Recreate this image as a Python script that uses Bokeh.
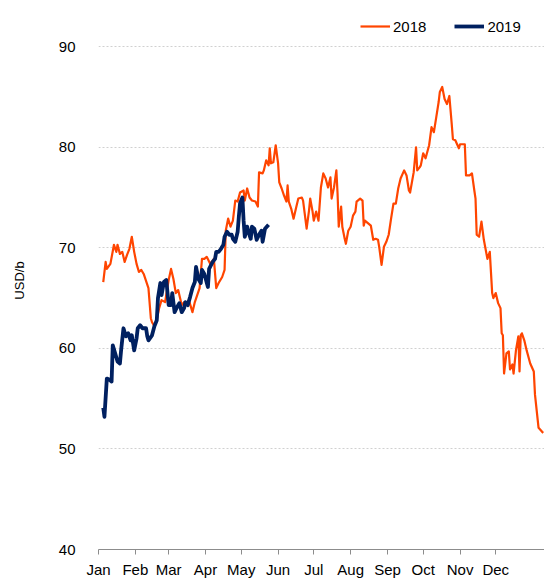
from bokeh.plotting import figure
from bokeh.models import Range1d, FixedTicker, Legend, LegendItem
from bokeh.embed import file_html
from bokeh.resources import INLINE

# ---- data -------------------------------------------------------------
months = ["Jan", "Feb", "Mar", "Apr", "May", "Jun",
          "Jul", "Aug", "Sep", "Oct", "Nov", "Dec"]
month_start_day = [0, 31, 59, 90, 120, 151, 181, 212, 243, 273, 304, 334]
y_ticks = [40, 50, 60, 70, 80, 90]

days_2018 = [4, 6, 7, 10, 13, 15, 16, 18, 20, 22,
             24, 26, 28, 30, 32, 34, 36, 38, 42, 44,
             45, 47, 49, 51, 53, 56, 59, 61, 63, 65,
             67, 70, 72, 74, 76, 79, 81, 83, 85, 87,
             89, 91, 94, 97, 99, 101, 104, 106, 107, 109,
             111, 113, 115, 117, 119, 122, 123, 125, 127, 129,
             132, 134, 135, 138, 139, 141, 143, 144, 145, 147,
             149, 151, 152, 154, 156, 158, 159, 160, 162, 164,
             166, 168, 171, 172, 175, 177, 178, 180, 181, 183,
             185, 187, 189, 191, 193, 195, 196, 198, 200, 201,
             202, 204, 205, 207, 208, 210, 212, 214, 216, 217,
             220, 222, 223, 224, 227, 229, 231, 233, 235, 236,
             238, 240, 242, 244, 246, 248, 250, 252, 254, 257,
             259, 261, 262, 265, 267, 268, 270, 271, 273, 275,
             278, 280, 282, 284, 286, 287, 289, 291, 293, 295,
             297, 298, 300, 303, 304, 308, 309, 312, 314, 316,
             317, 318, 320, 322, 324, 327, 329, 331, 332, 334,
             336, 338, 339, 340, 341, 343, 345, 346, 348, 349,
             351, 353, 354, 355, 356, 358, 360, 363, 366, 367,
             370, 373, 374]
brent_2018 = [66.6, 68.6, 67.9, 68.4, 70.3, 69.6, 70.3, 69.4, 69.6, 68.6,
              69.3, 69.9, 71.1, 69.6, 68.4, 67.6, 67.8, 67.4, 66.0, 63.0,
              62.6, 62.2, 62.8, 64.0, 64.8, 64.6, 66.8, 67.9, 66.9, 65.5,
              65.8, 64.3, 64.6, 64.5, 64.8, 63.6, 64.6, 65.3, 66.0, 68.9,
              68.9, 69.1, 68.4, 68.9, 66.0, 66.5, 67.1, 67.8, 71.7, 72.9,
              72.1, 72.7, 74.7, 74.6, 75.5, 75.7, 74.7, 75.9, 75.0, 74.7,
              74.6, 74.1, 77.5, 77.4, 77.7, 78.7, 78.2, 79.9, 78.4, 78.5,
              80.2, 78.4, 76.5, 75.9, 75.2, 74.6, 76.2, 74.6, 73.9, 72.9,
              73.9, 74.9, 75.0, 74.7, 71.9, 73.7, 74.9, 73.6, 72.7, 73.6,
              72.7, 76.0, 77.4, 76.9, 76.0, 77.0, 74.9, 76.0, 77.7, 75.4,
              72.1, 74.1, 72.1, 70.9, 70.4, 71.7, 72.1, 73.2, 73.6, 74.6,
              74.9, 74.7, 72.2, 72.7, 72.4, 72.2, 70.8, 70.9, 70.8, 70.1,
              68.3, 70.1, 70.6, 71.3, 72.9, 74.4, 74.4, 75.9, 76.9, 77.7,
              77.2, 75.7, 75.5, 77.5, 80.0, 77.7, 78.0, 78.2, 79.4, 78.9,
              80.2, 82.0, 81.5, 83.0, 84.5, 85.5, 86.0, 84.8, 84.3, 85.1,
              82.3, 80.8, 80.7, 79.9, 80.3, 80.3, 77.2, 77.2, 77.4, 75.7,
              74.9, 71.3, 71.1, 72.6, 70.8, 68.9, 69.6, 65.5, 65.0, 65.5,
              64.5, 64.0, 61.5, 61.3, 57.5, 59.5, 59.7, 57.9, 58.4, 57.5,
              59.8, 61.2, 57.7, 61.3, 61.5, 60.8, 59.8, 58.5, 57.7, 55.4,
              52.1, 51.7, 51.6]

days_2019 = [4, 5, 7, 9, 11, 12, 14, 16, 18, 19,
             21, 23, 25, 27, 28, 30, 32, 33, 35, 37,
             40, 41, 42, 45, 47, 49, 50, 52, 53, 55,
             57, 59, 61, 62, 64, 66, 68, 70, 72, 73,
             75, 77, 79, 81, 82, 84, 86, 87, 89, 92,
             93, 96, 98, 99, 101, 103, 105, 106, 108, 110,
             112, 113, 115, 117, 118, 119, 121, 122, 123, 125,
             126, 128, 129, 131, 133, 135, 137, 138, 140, 143]
brent_2019 = [54.1, 53.2, 57.0, 56.9, 56.7, 60.3, 59.5, 58.7, 58.5, 59.8,
              62.0, 61.2, 61.5, 60.8, 61.3, 59.8, 61.0, 62.0, 62.3, 62.0,
              62.0, 61.2, 60.8, 61.3, 62.2, 62.8, 65.0, 66.5, 65.3, 66.6,
              66.8, 64.3, 64.3, 65.5, 63.6, 64.1, 64.5, 63.6, 64.0, 64.6,
              64.3, 65.1, 66.0, 66.6, 68.1, 66.9, 66.5, 67.8, 67.4, 66.1,
              67.9, 68.6, 68.9, 69.6, 69.6, 69.9, 70.3, 71.1, 71.6, 71.3,
              71.3, 70.9, 70.6, 71.6, 73.1, 74.4, 75.0, 72.7, 71.1, 72.1,
              71.6, 70.9, 72.1, 71.9, 70.8, 71.3, 71.7, 70.6, 71.9, 72.3]

assert len(days_2018) == len(brent_2018)
assert len(days_2019) == len(brent_2019)

# ---- figure -----------------------------------------------------------
FONT = "Liberation Sans"

p = figure(width=544, height=580,
           x_range=Range1d(0, 375), y_range=Range1d(40, 93.5),
           output_backend="svg", toolbar_location=None,
           min_border_left=98, min_border_right=0,
           min_border_top=11, min_border_bottom=30)
p.outline_line_color = None
p.background_fill_color = "white"
p.border_fill_color = "white"

r18 = p.line(days_2018, brent_2018, line_color="#FF4500", line_width=2.2,
             line_join="round")
r19 = p.line(days_2019, brent_2019, line_color="#002060", line_width=3.8,
             line_join="round")

# x axis
p.xaxis.ticker = FixedTicker(ticks=month_start_day)
p.xaxis.major_label_overrides = {d: m for d, m in zip(month_start_day, months)}
p.xaxis.axis_line_color = "#8c8c8c"
p.xaxis.major_tick_line_color = "#8c8c8c"
p.xaxis.major_tick_out = 5
p.xaxis.major_tick_in = 0
p.xaxis.minor_tick_line_color = None
p.xaxis.major_label_text_font = FONT
p.xaxis.major_label_text_font_size = "15px"
p.xaxis.major_label_text_color = "black"
p.xaxis.major_label_standoff = 6

# y axis
p.yaxis.ticker = FixedTicker(ticks=y_ticks)
p.yaxis.axis_line_color = None
p.yaxis.major_tick_line_color = None
p.yaxis.minor_tick_line_color = None
p.yaxis.major_label_text_font = FONT
p.yaxis.major_label_text_font_size = "15px"
p.yaxis.major_label_text_color = "black"
p.yaxis.major_label_standoff = 17
p.yaxis.axis_label = "USD/b"
p.yaxis.axis_label_text_font = FONT
p.yaxis.axis_label_text_font_size = "13px"
p.yaxis.axis_label_text_font_style = "normal"
p.yaxis.axis_label_text_color = "black"
p.yaxis.axis_label_standoff = 29

# grid
p.xgrid.grid_line_color = None
p.ygrid.ticker = FixedTicker(ticks=y_ticks)
p.ygrid.grid_line_color = "#d0d0d0"
p.ygrid.grid_line_dash = "2 2"
p.ygrid.grid_line_width = 1

# legend
legend = Legend(items=[LegendItem(label="2018", renderers=[r18]),
                       LegendItem(label="2019", renderers=[r19])],
                orientation="horizontal", location=(262, 513),
                border_line_color=None, background_fill_alpha=0,
                padding=0, margin=0, spacing=28,
                glyph_width=30, glyph_height=20, label_standoff=3,
                label_text_font=FONT, label_text_font_size="15px",
                label_text_color="black")
p.add_layout(legend)

open("out.html", "w").write(file_html(p, INLINE))
